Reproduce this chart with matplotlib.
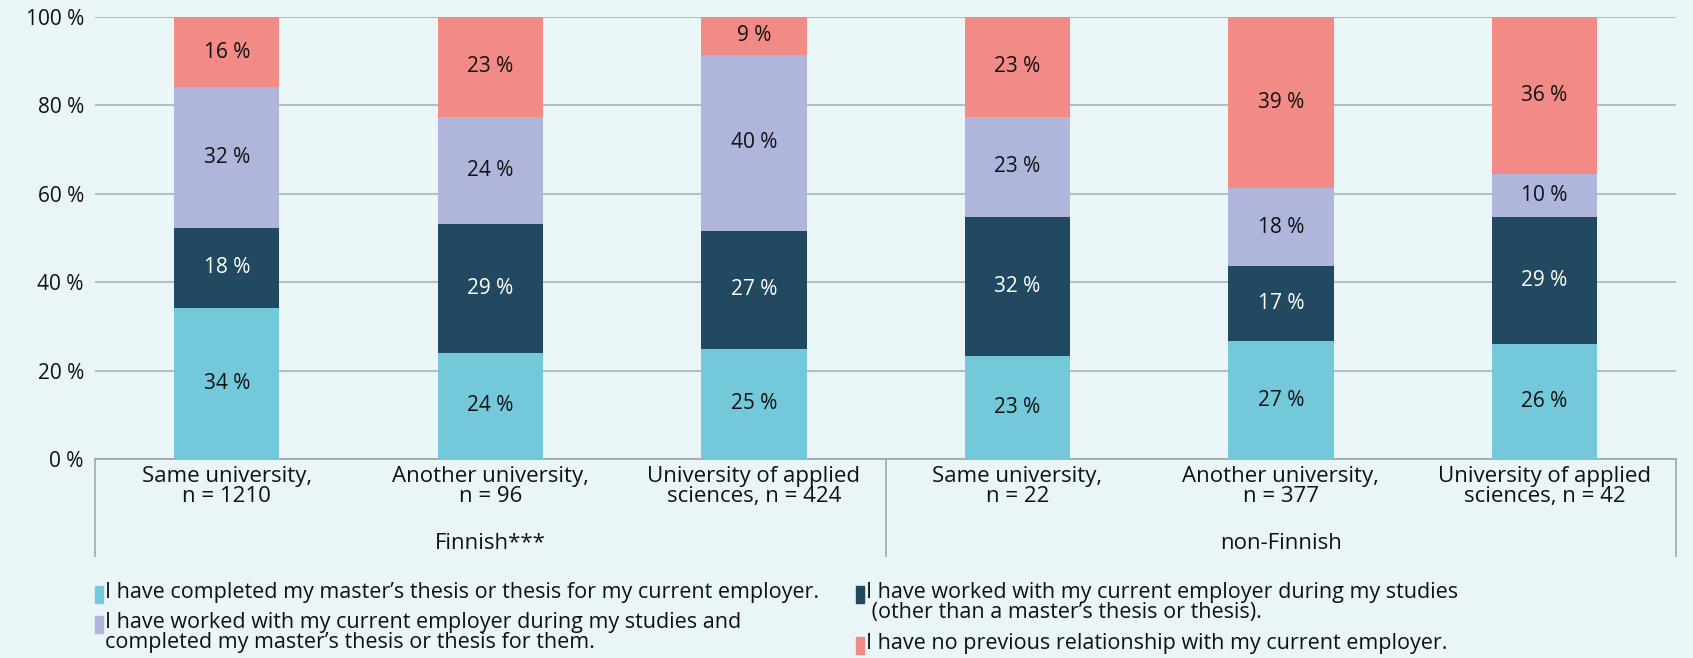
import numpy as np
import matplotlib
matplotlib.use("Agg")
import matplotlib.pyplot as plt
from matplotlib.patches import Rectangle

plt.rcParams['font.family'] = ['Open Sans', 'DejaVu Sans']

categories = [
    "Same university,\nn = 1210",
    "Another university,\nn = 96",
    "University of applied\nsciences, n = 424",
    "Same university,\nn = 22",
    "Another university,\nn = 377",
    "University of applied\nsciences, n = 42",
]
groups = ["Finnish***", "non-Finnish"]

# shares (%) per bar
thesis_only = [34.2, 24.0, 25.0, 23.2, 26.7, 26.0]
worked_only = [18.1, 29.2, 26.6, 31.6, 16.9, 28.8]
worked_and_thesis = [31.8, 24.2, 39.8, 22.6, 17.6, 9.7]
no_relationship = [15.9, 22.6, 8.6, 22.6, 38.8, 35.5]

series_labels = [
    "I have completed my master\u2019s thesis or thesis for my current employer.",
    "I have worked with my current employer during my studies\n (other than a master\u2019s thesis or thesis).",
    "I have worked with my current employer during my studies and\ncompleted my master\u2019s thesis or thesis for them.",
    "I have no previous relationship with my current employer.",
]
colors = ["#73c8d9", "#214a60", "#b0b5db", "#f28b85"]
text_colors = ["#111111", "white", "#111111", "#111111"]
bg = "#eaf5f7"

fig = plt.figure(figsize=(16.93, 6.58), dpi=100, facecolor=bg)
ax = fig.add_axes([0.0561, 0.3024, 0.934, 0.6718])
ax.set_facecolor(bg)

x = np.arange(len(categories))
bottom = np.zeros(len(categories))
for vals, c, tc in zip([thesis_only, worked_only, worked_and_thesis, no_relationship], colors, text_colors):
    vals = np.array(vals)
    ax.bar(x, vals, width=0.4, bottom=bottom, color=c, zorder=3)
    for xi, b, v in zip(x, bottom, vals):
        ax.text(xi, b + v / 2, f"{round(v)} %", ha="center", va="center",
                fontsize=15, color=tc, zorder=4)
    bottom += vals

ax.set_xlim(-0.5, len(categories) - 0.5)
ax.set_ylim(0, 100)
ax.set_yticks(range(0, 101, 20))
ax.set_yticklabels([f"{t} %" for t in range(0, 101, 20)], fontsize=15, color="#111111")
ax.set_xticks(x)
ax.set_xticklabels(categories, fontsize=16, color="#111111", linespacing=0.95)
ax.tick_params(axis="both", length=0)
ax.tick_params(axis="y", pad=8)
ax.tick_params(axis="x", pad=5)
ax.grid(axis="y", color="#b0b8b8", linewidth=1.3, zorder=0)
for s in ["top", "right", "left"]:
    ax.spines[s].set_visible(False)
ax.spines["bottom"].set_color("#a0a8a8")
ax.spines["bottom"].set_linewidth(1.3)

# group separators and group labels
for xs in [0, 0.5, 1]:
    ax.plot([xs, xs], [0, -0.22], transform=ax.transAxes, color="#a0a8a8",
            linewidth=1.2, clip_on=False)
for i, g in enumerate(groups):
    ax.text(0.25 + 0.5 * i, -0.19, g, transform=ax.transAxes, ha="center",
            va="center", fontsize=16, color="#111111")

# legend
legend_items = [
    (0, 95, 594),
    (1, 856, 594),
    (2, 95, 624),
    (3, 856, 645),
]
W, H = 1693, 658
for idx, px, py in legend_items:
    fig.patches.append(Rectangle((px / W, 1 - (py + 9) / H), 8 / W, 17 / H,
                                 transform=fig.transFigure, color=colors[idx]))
    fig.text((px + 10) / W, 1 - (py - 12) / H, series_labels[idx], ha="left",
             va="top", fontsize=15.5, color="#111111", linespacing=0.95)

fig.savefig("out.png", dpi=100, facecolor=bg)
